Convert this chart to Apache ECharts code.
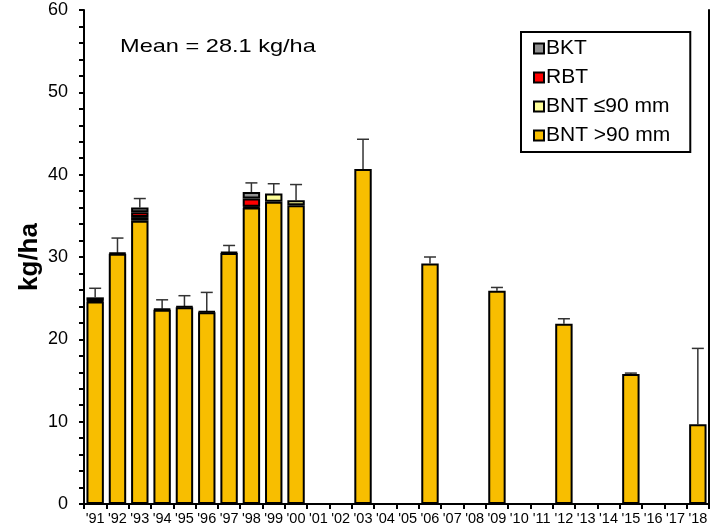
<!DOCTYPE html>
<html><head><meta charset="utf-8">
<script src="https://cdn.jsdelivr.net/npm/echarts@6/dist/echarts.min.js"></script>
<style>html,body{margin:0;padding:0;background:#fff}#c{width:718px;height:532px}</style>
</head><body><div id="c"></div>
<script>
var years = ["'91","'92","'93","'94","'95","'96","'97","'98","'99","'00","'01","'02","'03","'04","'05","'06","'07","'08","'09","'10","'11","'12","'13","'14","'15","'16","'17","'18"];
var bntLarge = [24.6,30.4,34.4,23.6,23.9,23.3,30.5,36.0,36.7,36.3,null,null,40.7,null,null,29.2,null,null,25.9,null,null,21.9,null,null,15.8,null,null,9.7];
var bntSmall = [0.1,0.1,0.45,0.1,0.1,0.1,0.1,0.1,1.0,0.6,null,null,null,null,null,null,null,null,null,null,null,null,null,null,null,null,null,null];
var rbt = [0.4,null,0.6,null,null,null,null,1.0,null,null,null,null,null,null,null,null,null,null,null,null,null,null,null,null,null,null,null,null];
var bkt = [null,null,0.55,null,null,null,null,0.8,null,null,null,null,null,null,null,null,null,null,null,null,null,null,null,null,null,null,null,null];
var errTop = [26.2,32.3,37.1,24.8,25.3,25.7,31.4,39.0,38.9,38.8,null,null,44.3,null,null,30.0,null,null,26.3,null,null,22.5,null,null,15.9,null,null,18.9];
var yTicks = [0,10,20,30,40,50,60];
var meanText = 'Mean = 28.1 kg/ha';

var totals = years.map(function(_, i){
  if (bntLarge[i] == null) return null;
  return (bntLarge[i]||0)+(bntSmall[i]||0)+(rbt[i]||0)+(bkt[i]||0);
});
var errData = years.map(function(_, i){ return totals[i]==null ? [i, null, null] : [i, totals[i], errTop[i]]; });

var chart = echarts.init(document.getElementById('c'));
var F = 'Liberation Sans, Arial, sans-serif';
var bw = 2;
function barSeries(name, data, color){
  return {name:name, type:'bar', stack:'a', data:data, barWidth:'78%',
    itemStyle:{color:color, borderColor:'#000', borderWidth:bw}, emphasis:{disabled:true}};
}
chart.setOption({
  animation:false,
  textStyle:{fontFamily:F},
  grid:{left:84, right:9, top:10, bottom:28},
  legend:{
    orient:'vertical', left:521, top:32, width:169,
    data:['BKT','RBT','BNT \u226490 mm','BNT >90 mm'],
    icon:'rect', itemWidth:10, itemHeight:10, itemGap:8,
    itemStyle:{borderWidth:2, borderColor:'#000'},
    textStyle:{fontSize:21, color:'#000', fontFamily:F, padding:[0,0,0,-3]},
    backgroundColor:'#fff', borderColor:'#000', borderWidth:2,
    padding:[6,20,6,12]
  },
  graphic:[{type:'text', left:120, top:37, scaleX:1.24, style:{text:meanText, font:'19px '+F, fill:'#000'}}],
  xAxis:{type:'category', data:years,
    axisLine:{lineStyle:{color:'#000', width:2}},
    axisTick:{show:true, interval:0, length:5, lineStyle:{color:'#000', width:2}},
    axisLabel:{interval:0, fontSize:14.5, color:'#000', margin:7, fontFamily:F}
  },
  yAxis:[{type:'value', min:0, max:60, interval:10, name:'kg/ha', nameLocation:'middle', nameGap:41,
    nameMoveOverlap:false,
    nameTextStyle:{fontSize:26, fontWeight:'bold', color:'#000', fontFamily:F},
    axisLine:{show:true, lineStyle:{color:'#000', width:2}},
    axisTick:{show:true, length:5, lineStyle:{color:'#000', width:2}},
    minorTick:{show:true, splitNumber:5, length:5, lineStyle:{color:'#000', width:2}},
    splitLine:{show:false},
    axisLabel:{fontSize:18, color:'#000', margin:16, fontFamily:F,
      formatter:function(v){ return yTicks.indexOf(v)>=0 ? String(v) : ''; }}
  },{type:'value', min:0, max:60, interval:10, position:'right',
    axisLine:{show:true, lineStyle:{color:'#000', width:2}}, axisTick:{show:false}, axisLabel:{show:false}, splitLine:{show:false}}],
  series:[
    barSeries('BNT >90 mm', bntLarge, '#F8BE00'),
    barSeries('BNT \u226490 mm', bntSmall, '#FFFF99'),
    barSeries('RBT', rbt, '#FF0000'),
    barSeries('BKT', bkt, '#909090'),
    {type:'custom', name:'err', data:errData, z:1,
      renderItem:function(params, api){
        if (api.value(1) == null || isNaN(api.value(1))) return;
        var p0 = api.coord([api.value(0), api.value(1)]);
        var p1 = api.coord([api.value(0), api.value(2)]);
        var hw = 6;
        var st = {stroke:'#333', lineWidth:1.5};
        return {type:'group', children:[
          {type:'line', shape:{x1:p0[0], y1:p0[1], x2:p1[0], y2:p1[1]}, style:st},
          {type:'line', shape:{x1:p1[0]-hw, y1:p1[1], x2:p1[0]+hw, y2:p1[1]}, style:st}
        ]};
      }}
  ]
});
</script></body></html>
